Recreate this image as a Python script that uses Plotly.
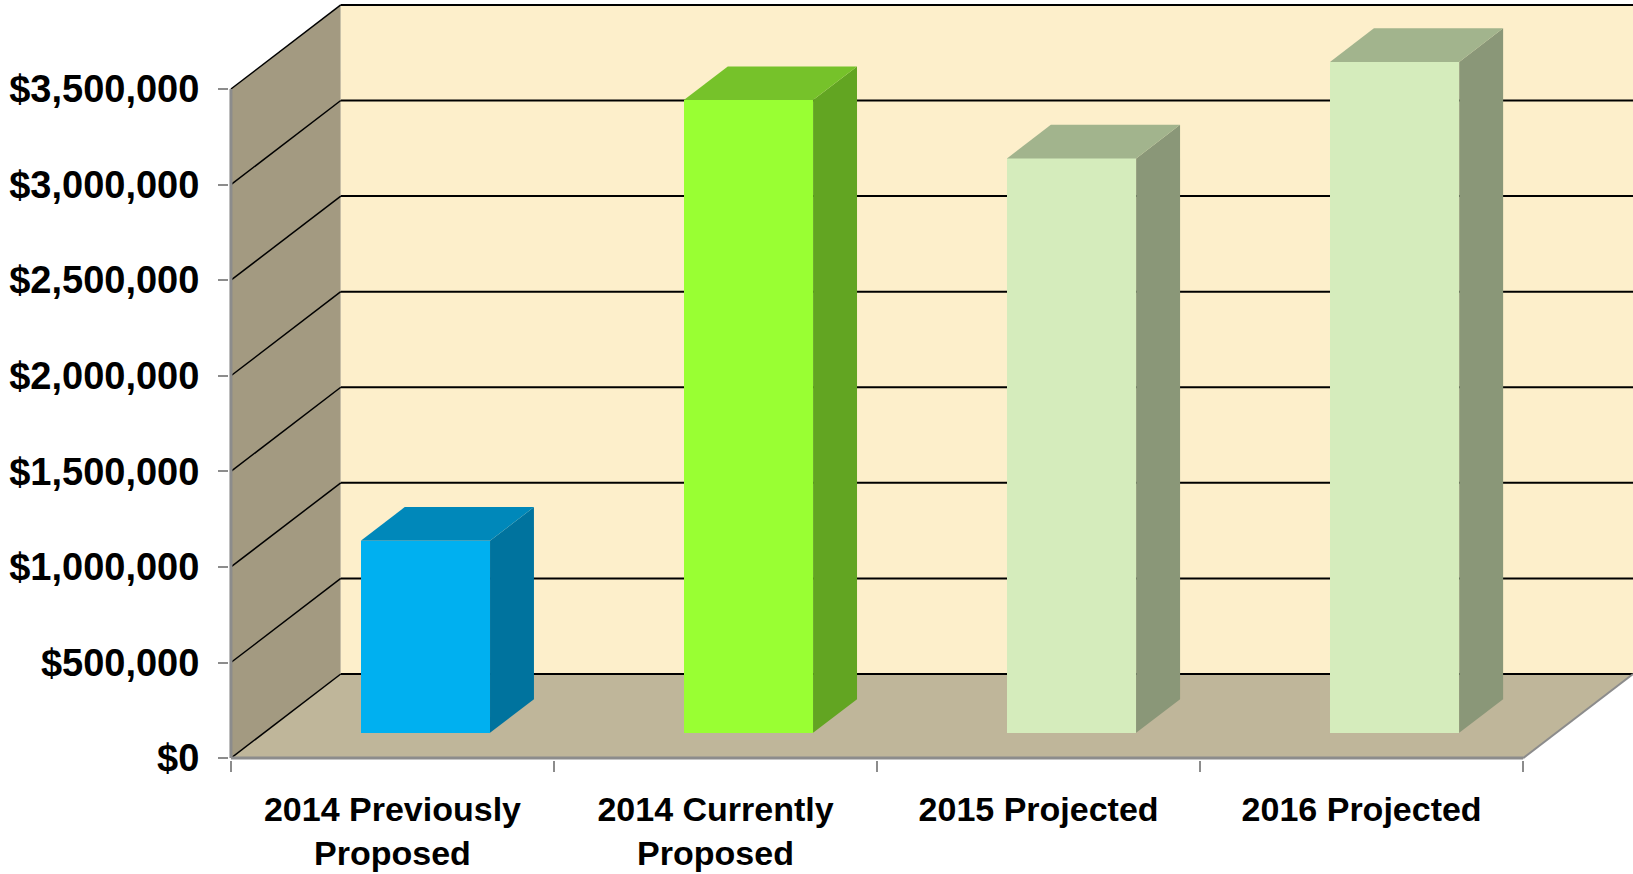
import plotly.graph_objects as go

# ---------------- data ----------------
categories = ["2014 Previously<br>Proposed", "2014 Currently<br>Proposed",
              "2015 Projected", "2016 Projected"]
values = [1005000, 3310000, 3005000, 3510000]
front_colors = ["#00B0F0", "#99FF33", "#D5ECBC", "#D5ECBC"]
side_colors = ["#00739E", "#62A522", "#8A9778", "#8A9778"]
top_colors = ["#0088BA", "#76C22A", "#A2B48D", "#A2B48D"]
y_tick_values = [0, 500000, 1000000, 1500000, 2000000, 2500000, 3000000, 3500000]
y_tick_labels = ["$0", "$500,000", "$1,000,000", "$1,500,000", "$2,000,000",
                 "$2,500,000", "$3,000,000", "$3,500,000"]

# ---------------- 3D oblique geometry (data units) ----------------
DX = 0.34          # depth shift along x, in category units
DY = 440000        # depth shift along y, in dollars
BAR_W = 0.4
D0, D1 = 0.3, 0.7  # bar depth start / end (fraction of full depth)
X_PAD = 0.006
Y_PAD = 10000
YMAX = y_tick_values[-1]
n = len(categories)
x_lo, x_hi = -0.5, n - 0.5

WALL = "#FDEFCB"
SIDE = "#A39A81"
FLOOR = "#BFB69A"
AXIS_GRAY = "#8C8C8C"

shapes = []
# side wall
shapes.append(dict(type="path", xref="x", yref="y", layer="below",
                   path=f"M {x_lo},0 L {x_lo+DX},{DY} L {x_lo+DX},{YMAX+DY} L {x_lo},{YMAX} Z",
                   fillcolor=SIDE, line=dict(width=0)))
# back wall
shapes.append(dict(type="rect", xref="x", yref="y", layer="below",
                   x0=x_lo + DX, x1=x_hi + DX, y0=DY, y1=YMAX + DY,
                   fillcolor=WALL, line=dict(width=0)))
# floor
shapes.append(dict(type="path", xref="x", yref="y", layer="below",
                   path=f"M {x_lo},0 L {x_hi},0 L {x_hi+DX},{DY} L {x_lo+DX},{DY} Z",
                   fillcolor=FLOOR, line=dict(width=0)))
# gridlines on back wall and side wall
for v in y_tick_values:
    shapes.append(dict(type="line", xref="x", yref="y", layer="below",
                       x0=x_lo + DX, x1=x_hi + DX, y0=v + DY, y1=v + DY,
                       line=dict(color="black", width=2)))
    shapes.append(dict(type="line", xref="x", yref="y", layer="below",
                       x0=x_lo, x1=x_lo + DX, y0=v, y1=v + DY,
                       line=dict(color="black", width=1.5)))
# floor front edge and right edge
shapes.append(dict(type="line", xref="x", yref="y", layer="below",
                   x0=x_lo, x1=x_hi, y0=0, y1=0,
                   line=dict(color=AXIS_GRAY, width=3)))
shapes.append(dict(type="line", xref="x", yref="y", layer="below",
                   x0=x_hi, x1=x_hi + DX, y0=0, y1=DY,
                   line=dict(color=AXIS_GRAY, width=2)))
# front value axis line
shapes.append(dict(type="line", xref="x", yref="y", layer="above",
                   x0=x_lo, x1=x_lo, y0=0, y1=YMAX,
                   line=dict(color=AXIS_GRAY, width=3)))

fig = go.Figure()

# front faces of the columns
fig.add_trace(go.Bar(
    x=[i + D0 * DX for i in range(n)],
    y=values,
    base=[D0 * DY] * n,
    width=[BAR_W] * n,
    marker=dict(color=front_colors, line=dict(width=0)),
    hoverinfo="skip", showlegend=False,
))

# side and top faces
for i, v in enumerate(values):
    xr0 = i + BAR_W / 2 + D0 * DX
    xr1 = i + BAR_W / 2 + D1 * DX
    xl0 = i - BAR_W / 2 + D0 * DX
    xl1 = i - BAR_W / 2 + D1 * DX
    fig.add_trace(go.Scatter(
        x=[xr0, xr1, xr1, xr0, xr0],
        y=[D0 * DY, D1 * DY, v + D1 * DY, v + D0 * DY, D0 * DY],
        mode="lines", fill="toself", fillcolor=side_colors[i],
        line=dict(width=0, color=side_colors[i]),
        hoverinfo="skip", showlegend=False))
    fig.add_trace(go.Scatter(
        x=[xl0, xr0, xr1, xl1, xl0],
        y=[v + D0 * DY, v + D0 * DY, v + D1 * DY, v + D1 * DY, v + D0 * DY],
        mode="lines", fill="toself", fillcolor=top_colors[i],
        line=dict(width=0, color=top_colors[i]),
        hoverinfo="skip", showlegend=False))

FONT = "Liberation Sans, Arial, sans-serif"

fig.update_layout(
    width=1633, height=874,
    margin=dict(l=229, r=0, t=3, b=114),
    paper_bgcolor="white", plot_bgcolor="white",
    shapes=shapes,
    bargap=0,
    xaxis=dict(
        range=[x_lo - X_PAD, x_hi + DX],
        tickvals=list(range(n)), ticktext=categories,
        ticks="", showgrid=False, zeroline=False, showline=False,
        tickfont=dict(family=FONT, size=34, color="black", weight="bold"),
        ticklabelstandoff=26,
        minor=dict(tickvals=[x_lo + k for k in range(n + 1)], ticks="outside",
                   ticklen=11, tickwidth=2, tickcolor=AXIS_GRAY, showgrid=False),
        automargin=False, fixedrange=True,
    ),
    yaxis=dict(
        range=[-Y_PAD, YMAX + DY + Y_PAD],
        tickvals=y_tick_values, ticktext=y_tick_labels,
        ticks="outside", ticklen=10, tickwidth=2, tickcolor=AXIS_GRAY,
        showgrid=False, zeroline=False, showline=False,
        tickfont=dict(family=FONT, size=38, color="black", weight="bold"),
        ticklabelstandoff=11,
        automargin=False, fixedrange=True,
    ),
)

fig.write_html("out.html")
